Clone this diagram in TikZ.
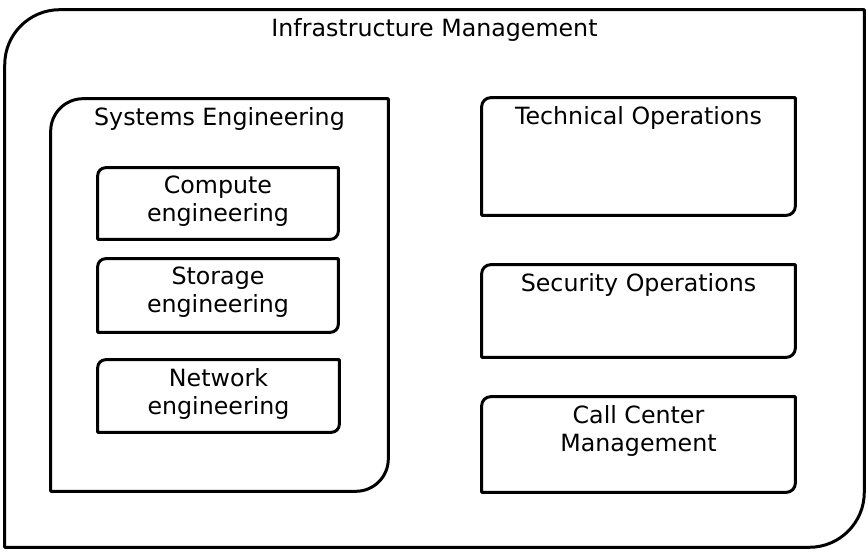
\documentclass[tikz,border=0pt]{standalone}
\usepackage{fontspec}
\setmainfont{DejaVu Sans}
\usetikzlibrary{positioning}

\begin{document}
\begin{tikzpicture}[x=0.02cm,y=0.02cm,
    frame/.style={line width=1.7pt, line join=round},
    box/.style={draw=none, inner sep=0pt},
    title/.style={font=\fontsize{13.5}{16}\selectfont, align=center, inner sep=0pt, below=0.16cm}]
    \useasboundingbox (0,0) rectangle (868,551);

    % areas
    \node[box, minimum width=17.18cm, minimum height=10.74cm] (infra) at (434.5,272.5) {};
    \node[box, minimum width=6.74cm, minimum height=7.84cm] (syseng) at (219.5,256) {};
    \node[box, minimum width=4.8cm, minimum height=1.42cm] (compute) at (218,347.5) {};
    \node[box, minimum width=4.8cm, minimum height=1.46cm] (storage) at (218,255.5) {};
    \node[box, minimum width=4.82cm, minimum height=1.44cm] (network) at (218.5,155) {};
    \node[box, minimum width=6.26cm, minimum height=2.34cm] (techops) at (638.5,394.5) {};
    \node[box, minimum width=6.26cm, minimum height=1.84cm] (secops) at (638.5,240) {};
    \node[box, minimum width=6.26cm, minimum height=1.9cm] (callcenter) at (638.5,106.5) {};

    % frames, rounded at top left and bottom right only
    \foreach \n/\r in {infra/1.1cm, syseng/0.65cm, compute/0.16cm, storage/0.16cm,
        network/0.16cm, techops/0.18cm, secops/0.18cm, callcenter/0.18cm}
      \draw[frame] (\n.south west) -- ([yshift=-\r]\n.north west)
        arc[start angle=180, end angle=90, radius=\r] -- (\n.north east)
        -- ([yshift=\r]\n.south east) arc[start angle=0, end angle=-90, radius=\r] -- cycle;

    % labels
    \node[title] (infraT) at (infra.north) {Infrastructure Management};
    \node[title] (sysengT) at (syseng.north) {Systems Engineering};
    \node[title] (computeT) at (compute.north) {Compute\\engineering};
    \node[title] (storageT) at (storage.north) {Storage\\engineering};
    \node[title] (networkT) at (network.north) {Network\\engineering};
    \node[title] (techopsT) at (techops.north) {Technical Operations};
    \node[title] (secopsT) at (secops.north) {Security Operations};
    \node[title] (callcenterT) at (callcenter.north) {Call Center\\Management};

\end{tikzpicture}
\end{document}
